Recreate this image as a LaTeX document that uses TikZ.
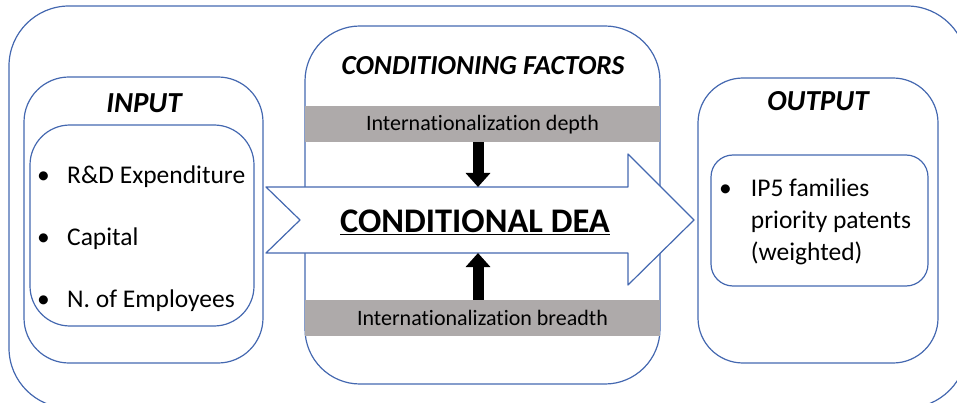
\documentclass[tikz,border=0pt]{standalone}
\usepackage{fontspec}
\setmainfont{Carlito}[Ligatures=NoCommon]
\usetikzlibrary{arrows.meta}
\definecolor{boxblue}{RGB}{68,104,176}
\definecolor{bargray}{RGB}{174,170,170}
\begin{document}
\begin{tikzpicture}[x=1pt,y=-1pt,line join=round,
	box/.style={draw=boxblue,line width=1.2pt,rectangle,inner sep=0pt},
	bar/.style={fill=bargray,rectangle,inner sep=0pt,minimum width=355pt,minimum height=36pt,text height=16pt,text depth=2pt,font=\fontsize{22}{26}\selectfont},
	head/.style={font=\fontsize{29}{34}\selectfont\bfseries\itshape},
	item/.style={anchor=mid west,inner sep=0pt,font=\fontsize{25.5}{32}\selectfont},
	blk/.style={line width=11pt,-{Triangle[width=24pt,length=14pt]}}]
	\useasboundingbox (0,0) rectangle (957,403);
	\clip (0,0) rectangle (957,403);
	% frames
	\node[box,rounded corners=60pt,minimum width=958pt,minimum height=402pt] (frame) at (488,207) {};
	\node[box,rounded corners=45pt,minimum width=239pt,minimum height=286pt] (input) at (143.5,220) {};
	\node[box,rounded corners=40pt,minimum width=224pt,minimum height=201pt] (inlist) at (142,225.5) {};
	\node[box,rounded corners=55pt,minimum width=355pt,minimum height=358pt] (cond) at (482.5,205) {};
	\node[box,rounded corners=45pt,minimum width=240pt,minimum height=285pt] (output) at (818,220.5) {};
	\node[box,rounded corners=22pt,minimum width=217pt,minimum height=131pt] (outlist) at (819.5,220.5) {};
	% titles
	\node[head] (intitle) at (144,103) {INPUT};
	\node[head,font=\fontsize{27.5}{32}\selectfont\bfseries\itshape] (condtitle) at (483,66) {CONDITIONING FACTORS};
	\node[head] (outtitle) at (818,101) {OUTPUT};
	% inputs
	\node[item] (rd) at (37,181) {\makebox[30pt][l]{\textbullet}R\&D Expenditure};
	\node[item] (cap) at (37,243) {\makebox[30pt][l]{\textbullet}Capital};
	\node[item] (emp) at (37,305) {\makebox[30pt][l]{\textbullet}N. of Employees};
	% output
	\node[item,anchor=north west] (ip5) at (719,173.5) {\begin{tabular}{@{}l@{\hspace{19pt}}l@{}}\textbullet & IP5 families\\ & priority patents\\ & (weighted)\end{tabular}};
	% conditioning factors
	\node[bar] (depth) at (482.5,124) {Internationalization depth};
	\node[bar] (breadth) at (482.5,318) {Internationalization breadth};
	% big arrow
	\draw[draw=boxblue,line width=1.2pt,fill=white] (266,187) coordinate (tailtop) -- (628,187) coordinate (shafttop)
		-- (628,154) coordinate (headtop) -- (694,220) coordinate (tip) -- (628,285) coordinate (headbot)
		-- (628,253) coordinate (shaftbot) -- (266,253) coordinate (tailbot) -- (300,220) coordinate (notch) -- cycle;
	\node[font=\fontsize{34.5}{40}\selectfont\bfseries] (dea) at (475,222) {\underline{CONDITIONAL DEA}};
	\coordinate (dtop) at (478,187);
	\coordinate (dbot) at (478,253);
	\draw[blk] (depth.south -| dtop) -- (dtop);
	\draw[blk] (breadth.north -| dbot) -- (dbot);
\end{tikzpicture}
\end{document}
